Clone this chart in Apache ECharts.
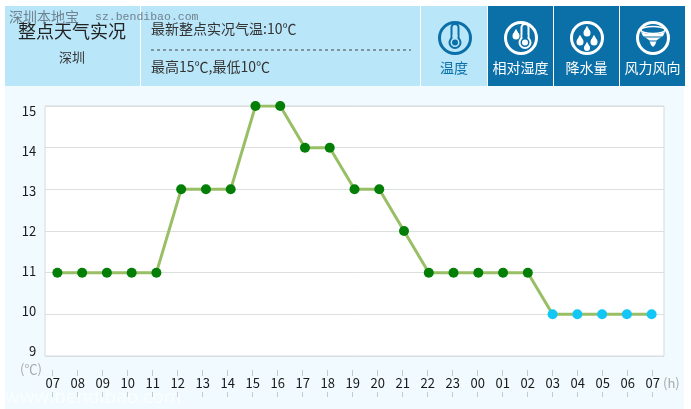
<!DOCTYPE html>
<html>
<head>
<meta charset="utf-8">
<script src="https://cdn.jsdelivr.net/npm/echarts@6/dist/echarts.min.js"></script>
<style>
  html, body { margin: 0; padding: 0; background: #fff; }
  #chart { width: 691px; height: 409px; }
</style>
</head>
<body>
<div id="chart"></div>
<script>
var hours = ['07','08','09','10','11','12','13','14','15','16','17','18','19','20','21','22','23','00','01','02','03','04','05','06','07'];
var temps = [11,11,11,11,11,13,13,13,15,15,14,14,13,13,12,11,11,11,11,11,10,10,10,10,10];
var tabNames = ['温度','相对湿度','降水量','风力风向'];
var cityName = '深圳';
var headTitle = '整点天气实况';
var latestText = '最新整点实况气温:10℃';
var rangeText = '最高15℃,最低10℃';

var FONT = '"Noto Sans CJK SC", sans-serif';
var LIGHT = '#b9e6f8';
var DARK = '#0b6fa8';

function rect(x, y, w, h, fill) {
  return { type: 'rect', z: -10, silent: true, shape: { x: x, y: y, width: w, height: h }, style: { fill: fill } };
}
function text(x, y, str, size, color, align, family) {
  return { type: 'text', x: x, y: y, silent: true,
    style: { text: str, fontSize: size, fill: color, align: align || 'left', verticalAlign: 'middle', fontFamily: family || FONT } };
}
function ring(cx, color) {
  return { type: 'circle', shape: { cx: cx, cy: 38, r: 15.5 }, style: { fill: 'none', stroke: color, lineWidth: 3 } };
}
// water drop: a round belly with a triangle on top
function drop(cx, cy, r, color) {
  return [
    { type: 'circle', shape: { cx: cx, cy: cy, r: r }, style: { fill: color } },
    { type: 'polygon', shape: { points: [[cx - r * 0.92, cy - r * 0.4], [cx, cy - r * 2.1], [cx + r * 0.92, cy - r * 0.4]] }, style: { fill: color } }
  ];
}
// thermometer icon, bg is the colour inside the tube
function thermo(cx, cy, color, bg) {
  return [
    { type: 'rect', shape: { x: cx - 3.5, y: cy - 12, width: 7, height: 18, r: 3.5 }, style: { fill: bg, stroke: color, lineWidth: 2 } },
    { type: 'circle', shape: { cx: cx, cy: cy + 6.5, r: 5.5 }, style: { fill: bg, stroke: color, lineWidth: 2 } },
    { type: 'rect', shape: { x: cx - 2.5, y: cy - 1, width: 5, height: 5 }, style: { fill: bg } },
    { type: 'circle', shape: { cx: cx, cy: cy + 6.5, r: 3 }, style: { fill: color } }
  ];
}
function funnel(cx, cy, color) {
  return [
    { type: 'ellipse', shape: { cx: cx, cy: cy - 6, rx: 12, ry: 3.5 }, style: { fill: 'none', stroke: color, lineWidth: 1.5 } },
    { type: 'polygon', shape: { points: [[cx - 12, cy - 4], [cx - 6, cy - 2], [cx + 6, cy - 2], [cx + 12, cy - 4], [cx + 10, cy], [cx + 4, cy + 4], [cx + 2, cy + 9], [cx, cy + 11], [cx - 2, cy + 9], [cx - 4, cy + 4], [cx - 10, cy]] }, style: { fill: color } },
    { type: 'line', shape: { x1: cx - 9, y1: cy + 1, x2: cx + 9, y2: cy + 1 }, style: { stroke: DARK, lineWidth: 1 } },
    { type: 'line', shape: { x1: cx - 5, y1: cy + 5, x2: cx + 5, y2: cy + 5 }, style: { stroke: DARK, lineWidth: 1 } }
  ];
}

var graphics = [
  rect(5, 86, 679, 323, '#f1fafe'),
  rect(5, 6, 135, 80, LIGHT),
  rect(141, 6, 279, 80, LIGHT),
  rect(421, 6, 66, 80, LIGHT),
  rect(488, 6, 65, 80, DARK),
  rect(554, 6, 65, 80, DARK),
  rect(620, 6, 65, 80, DARK),
  text(72, 31, headTitle, 18, '#222', 'center'),
  text(72, 57, cityName, 13, '#333', 'center'),
  text(151, 29, latestText, 14, '#333'),
  text(151, 67, rangeText, 14, '#333'),
  { type: 'line', silent: true, shape: { x1: 151, y1: 50, x2: 411, y2: 50 }, style: { stroke: '#444', lineWidth: 1, lineDash: [3, 3] } },
  text(9, 17, '深圳本地宝', 14, '#6f8290'),
  text(95, 17, 'sz.bendibao.com', 11.5, '#6f8290', 'left', '"Liberation Mono", monospace'),
  text(5, 398, 'www.bendibao.com', 19, 'rgba(255,255,255,0.7)', 'left', '"Open Sans", sans-serif'),
  text(20, 369, '(℃)', 13, '#aaaaaa'),
  text(663, 383, '(h)', 13, '#aaaaaa'),
  ring(455, DARK),
  ring(521, '#fff'),
  ring(587, '#fff'),
  ring(653, '#fff')
].concat(
  thermo(455, 36, DARK, LIGHT),
  drop(516, 36, 3.5, '#fff'),
  thermo(525, 36, '#fff', DARK),
  drop(587, 33, 3.5, '#fff'),
  drop(580, 42, 3.5, '#fff'),
  drop(594, 42, 3.5, '#fff'),
  drop(587, 48, 3, '#fff'),
  funnel(653, 36, '#fff')
);

var tabCentres = [454, 520.5, 586.5, 652.5];
tabNames.forEach(function (name, i) {
  graphics.push(text(tabCentres[i], 68, name, 14, i === 0 ? DARK : '#fff', 'center'));
});

var chart = echarts.init(document.getElementById('chart'), null, { renderer: 'canvas' });
chart.setOption({
  animation: false,
  graphic: graphics,
  grid: [
    { left: 45, top: 106, width: 619, height: 250, show: true, backgroundColor: '#fff', borderColor: '#d5dbde', borderWidth: 1 },
    // the tick labels sit on a slightly tighter scale than the plot
    { left: 40.2, top: 111, width: 625, height: 240 }
  ],
  xAxis: [
    { type: 'category', gridIndex: 0, data: hours, axisLine: { show: false }, axisTick: { show: false }, axisLabel: { show: false } },
    { type: 'category', gridIndex: 1, data: hours, offset: 19, axisLine: { show: false },
      axisTick: { show: true, interval: 0, alignWithLabel: true, length: 6, lineStyle: { color: '#c3cbd0' } },
      axisLabel: { interval: 0, margin: 7, color: '#1a1a1a', fontSize: 13, fontFamily: FONT } },
    { type: 'category', gridIndex: 1, data: hours, position: 'bottom', offset: 41, axisLine: { show: false },
      axisTick: { show: true, interval: 0, alignWithLabel: true, length: 5, lineStyle: { color: '#c3cbd0' } },
      axisLabel: { show: false } }
  ],
  yAxis: [
    { type: 'value', gridIndex: 0, min: 9, max: 15, interval: 1, axisLine: { show: false }, axisTick: { show: false }, axisLabel: { show: false },
      splitLine: { lineStyle: { color: '#dcdfe0', width: 1 } } },
    { type: 'value', gridIndex: 1, min: 9, max: 15, interval: 1, axisLine: { show: false }, axisTick: { show: false }, splitLine: { show: false },
      axisLabel: { margin: 4, color: '#1a1a1a', fontSize: 13, fontFamily: FONT } }
  ],
  series: [{
    type: 'line',
    xAxisIndex: 0,
    yAxisIndex: 0,
    symbol: 'circle',
    symbolSize: 10,
    lineStyle: { color: '#98bf66', width: 3 },
    data: temps.map(function (v) {
      return { value: v, itemStyle: { color: v === 10 ? '#12c7f5' : '#037f07' } };
    })
  }]
});
</script>
</body>
</html>
